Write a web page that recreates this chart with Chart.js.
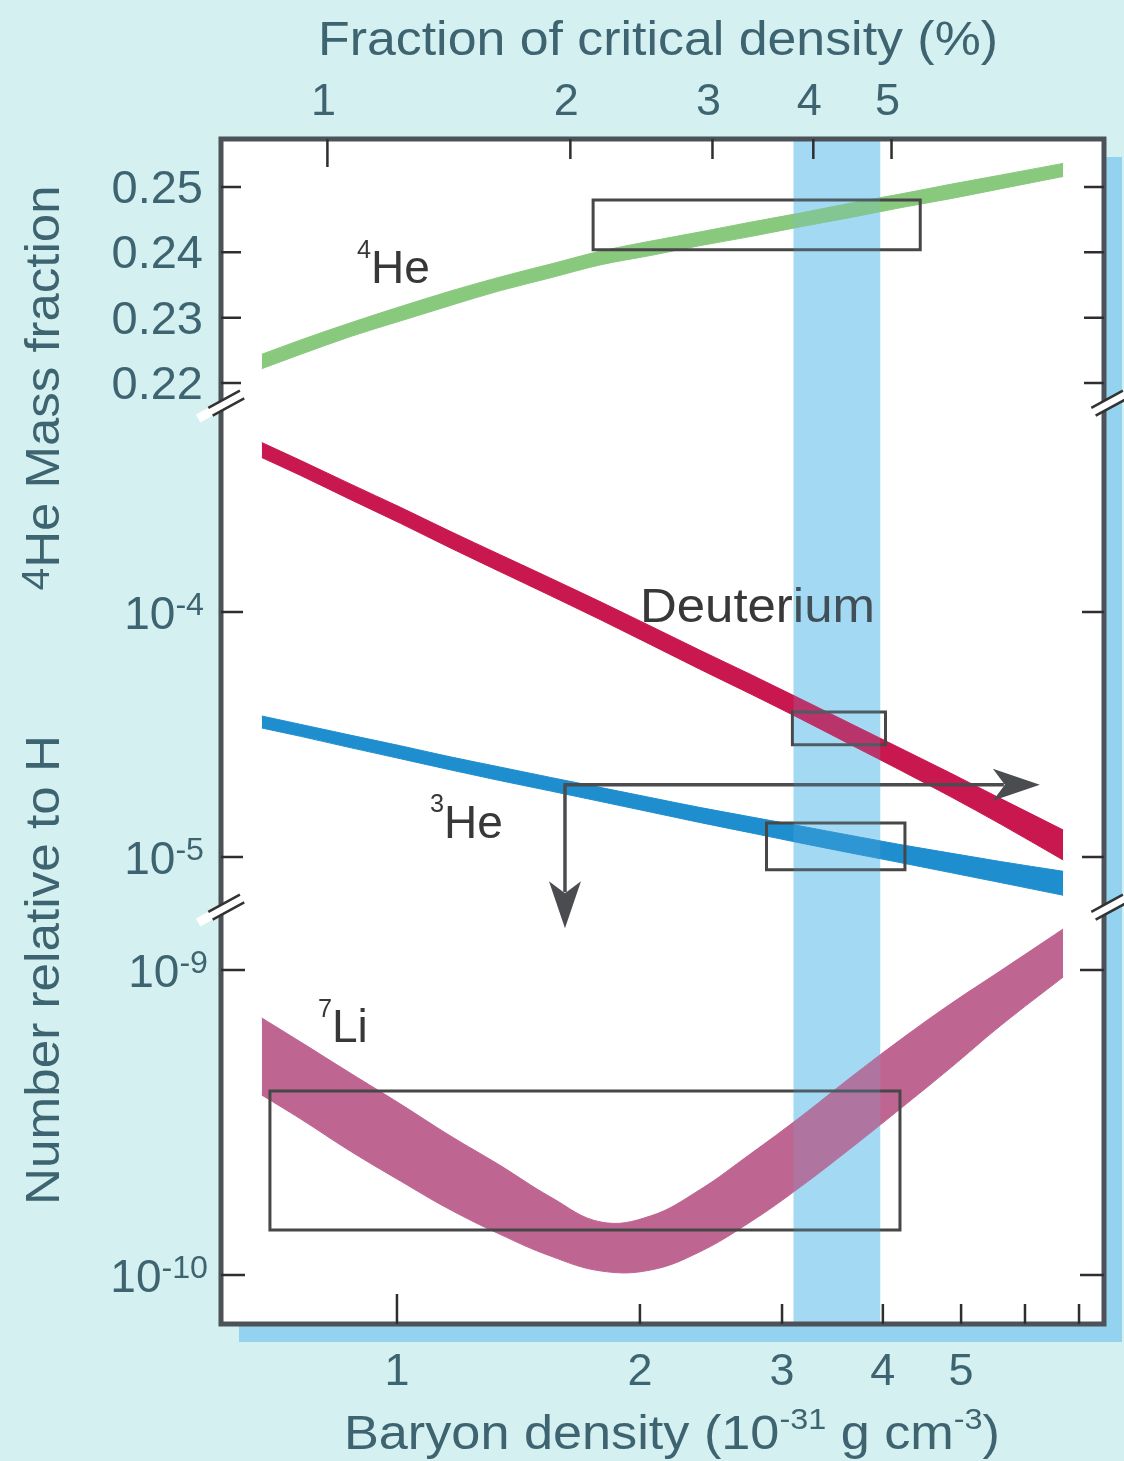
<!DOCTYPE html>
<html><head><meta charset="utf-8">
<script src="https://cdn.jsdelivr.net/npm/chart.js@4.4.1/dist/chart.umd.min.js"></script>
<style>html,body{margin:0;padding:0;background:#d4f0f0;}canvas{display:block;}</style>
</head><body>
<canvas id="c" width="1124" height="1461"></canvas>
<script>
// ---- data ----
const density = [0.68, 0.76, 0.875, 1.01, 1.16, 1.34, 1.55, 1.79, 2.06, 2.37, 2.74, 3.16, 3.64, 4.2, 4.85, 5.59, 6.69];
const he4Upper = [0.2244,0.2266,0.2292,0.2317,0.2340,0.2362,0.2382,0.2402,0.2417,0.2431,0.2446,0.2460,0.2475,0.2489,0.2504,0.2518,0.2536];
const he4Lower = [0.2222,0.2244,0.2271,0.2295,0.2318,0.2341,0.2361,0.2381,0.2395,0.2410,0.2424,0.2439,0.2453,0.2468,0.2482,0.2497,0.2516];
const deutUpper = [4.918e-4,4.153e-4,3.334e-4,2.675e-4,2.146e-4,1.718e-4,1.374e-4,1.098e-4,8.772e-5,6.997e-5,5.569e-5,4.426e-5,3.516e-5,2.785e-5,2.201e-5,1.735e-5,1.289e-5];
const deutLower = [4.271e-4,3.606e-4,2.882e-4,2.301e-4,1.838e-4,1.464e-4,1.166e-4,9.275e-5,7.373e-5,5.853e-5,4.637e-5,3.668e-5,2.886e-5,2.265e-5,1.764e-5,1.365e-5,9.72e-6];
const he3Upper = [3.762e-5,3.477e-5,3.144e-5,2.844e-5,2.570e-5,2.331e-5,2.112e-5,1.920e-5,1.749e-5,1.594e-5,1.459e-5,1.338e-5,1.226e-5,1.124e-5,1.037e-5,9.585e-6,8.741e-6];
const he3Lower = [3.362e-5,3.107e-5,2.795e-5,2.518e-5,2.274e-5,2.052e-5,1.859e-5,1.683e-5,1.526e-5,1.384e-5,1.256e-5,1.141e-5,1.040e-5,9.49e-6,8.636e-6,7.867e-6,6.979e-6];
const li7Upper = [6.963e-10,5.804e-10,4.595e-10,3.636e-10,2.877e-10,2.294e-10,1.802e-10,1.492e-10,1.561e-10,1.900e-10,2.493e-10,3.296e-10,4.424e-10,5.893e-10,7.735e-10,9.925e-10,1.363e-9];
const li7Lower = [3.891e-10,3.246e-10,2.550e-10,2.033e-10,1.646e-10,1.362e-10,1.154e-10,1.031e-10,1.038e-10,1.190e-10,1.492e-10,1.943e-10,2.589e-10,3.501e-10,4.773e-10,6.553e-10,9.485e-10];

const he4BoxX = [1.75, 4.45], he4BoxY = [0.2404, 0.2480];
const deutBoxX = [3.09, 4.03], deutBoxY = [2.87e-5, 3.91e-5];
const he3BoxX = [2.87, 4.26], he3BoxY = [8.86e-6, 1.377e-5];
const li7BoxX = [0.696, 4.20], li7BoxY = [1.406e-10, 4.01e-10];
const preferredBand = [3.10, 3.97];
const arrowCorner = [1.615, 1.97e-5];
const arrowRightX = 6.26;
const arrowDownY = 1.37e-9;

const bottomTicks = [1, 2, 3, 4, 5, 6, 7];
const bottomLabels = ['1', '2', '3', '4', '5', '', ''];
const topTicks = [1, 2, 3, 4, 5];
const topLabels = ['1', '2', '3', '4', '5'];
const he4Ticks = [0.25, 0.24, 0.23, 0.22];
const he4TickLabels = ['0.25', '0.24', '0.23', '0.22'];
const midTicks = [1e-4, 1e-5];
const midTickExp = ['-4', '-5'];
const liTicks = [1e-9, 1e-10];
const liTickExp = ['-9', '-10'];
const criticalUnit = 0.82; // baryon density (1e-31 g cm^-3) equal to 1 % of critical density

// ---- styles ----
const FONT = '"Liberation Sans", Arial, sans-serif';
const AXIS_TXT = '#3d6470';
const LBL_TXT = '#383838';
const C_HE4 = '#88c97e', C_D = '#c9174f', C_HE3 = '#1f8ecf', C_LI = '#bf6592';

function band(upper, lower, color, axis, mode) {
  const extra = mode === 'monotone' ? {cubicInterpolationMode: 'monotone'} : {tension: 0.4};
  return [
    Object.assign({data: density.map((x, i) => ({x, y: upper[i]})), yAxisID: axis, xAxisID: 'x', borderColor: color, borderWidth: 1, fill: false}, extra),
    Object.assign({data: density.map((x, i) => ({x, y: lower[i]})), yAxisID: axis, xAxisID: 'x', borderColor: color, borderWidth: 1, backgroundColor: color, fill: '-1'}, extra)
  ];
}
function rect(bx, by, axis) {
  return {data: [{x: bx[0], y: by[0]}, {x: bx[1], y: by[0]}, {x: bx[1], y: by[1]}, {x: bx[0], y: by[1]}, {x: bx[0], y: by[0]}],
    yAxisID: axis, xAxisID: 'x', borderColor: '#474747', borderWidth: 3, tension: 0, fill: false,
    borderJoinStyle: 'miter', borderCapStyle: 'square'};
}

const datasets = [
  rect(he4BoxX, he4BoxY, 'yHe'),
  rect(deutBoxX, deutBoxY, 'yMid'),
  rect(he3BoxX, he3BoxY, 'yMid'),
  rect(li7BoxX, li7BoxY, 'yLi'),
  ...band(he4Upper, he4Lower, C_HE4, 'yHe', 'monotone'),
  ...band(deutUpper, deutLower, C_D, 'yMid', 'monotone'),
  ...band(he3Upper, he3Lower, C_HE3, 'yMid', 'monotone'),
  ...band(li7Upper, li7Lower, C_LI, 'yLi', 'spline')
];

function rich(ctx, parts, x, y, size, align, color, targetW, rot) {
  ctx.save();
  ctx.translate(x, y);
  if (rot) ctx.rotate(rot);
  let w = 0; const ws = [];
  for (const p of parts) { ctx.font = `${size * (p[1] || 1)}px ${FONT}`; const m = ctx.measureText(p[0]).width; ws.push(m); w += m; }
  if (targetW) ctx.scale(targetW / w, 1);
  let cx = align === 'center' ? -w / 2 : align === 'right' ? -w : 0;
  ctx.fillStyle = color; ctx.textBaseline = 'alphabetic'; ctx.textAlign = 'left';
  parts.forEach((p, i) => { ctx.font = `${size * (p[1] || 1)}px ${FONT}`; ctx.fillText(p[0], cx, -(p[2] || 0) * size); cx += ws[i]; });
  ctx.restore();
}
function arrowHead(ctx, tx, ty, ang) {
  ctx.save(); ctx.translate(tx, ty); ctx.rotate(ang);
  ctx.beginPath(); ctx.moveTo(0, 0); ctx.lineTo(-47, -16); ctx.lineTo(-35, 0); ctx.lineTo(-47, 16); ctx.closePath();
  ctx.fillStyle = '#4a4c50'; ctx.fill();
  ctx.restore();
}

const decor = {
  id: 'decor',
  beforeDraw(chart) {
    const {ctx, chartArea: a} = chart;
    ctx.save();
    ctx.fillStyle = '#d4f0f0'; ctx.fillRect(0, 0, chart.width, chart.height);
    ctx.fillStyle = '#93d3ef'; ctx.fillRect(a.left + 18, a.top + 18, a.right - a.left, a.bottom - a.top);
    ctx.fillStyle = '#ffffff'; ctx.fillRect(a.left, a.top, a.right - a.left, a.bottom - a.top);
    const xs = chart.scales.x;
    const b0 = xs.getPixelForValue(preferredBand[0]), b1 = xs.getPixelForValue(preferredBand[1]);
    ctx.fillStyle = '#b0e0f7'; ctx.fillRect(b0, a.top, b1 - b0, a.bottom - a.top);
    ctx.restore();
  },
  afterDatasetsDraw(chart) {
    const {ctx, chartArea: a} = chart;
    const xs = chart.scales.x, xf = chart.scales.xFrac, yHe = chart.scales.yHe, yM = chart.scales.yMid, yL = chart.scales.yLi;
    ctx.save();
    // arrows
    const px = xs.getPixelForValue(arrowCorner[0]), py = yM.getPixelForValue(arrowCorner[1]);
    const pr = xs.getPixelForValue(arrowRightX), pd = yL.getPixelForValue(arrowDownY);
    ctx.strokeStyle = '#4a4c50'; ctx.lineWidth = 3.5; ctx.lineCap = 'butt';
    ctx.beginPath(); ctx.moveTo(px - 1.5, py); ctx.lineTo(pr - 36, py); ctx.moveTo(px, py); ctx.lineTo(px, pd - 36); ctx.stroke();
    arrowHead(ctx, pr, py, 0);
    arrowHead(ctx, px, pd, Math.PI / 2);
    // element labels
    rich(ctx, [['4', 0.55, 0.55], ['He']], xs.getPixelForValue(0.892), yHe.getPixelForValue(0.2353), 46, 'left', LBL_TXT);
    rich(ctx, [['Deuterium']], xs.getPixelForValue(2.0), yM.getPixelForValue(9.1e-5), 48, 'left', LBL_TXT, 235);
    rich(ctx, [['3', 0.55, 0.55], ['He']], xs.getPixelForValue(1.099), yM.getPixelForValue(1.2e-5), 46, 'left', LBL_TXT);
    rich(ctx, [['7', 0.55, 0.55], ['Li']], xs.getPixelForValue(0.798), yL.getPixelForValue(5.8e-10), 46, 'left', LBL_TXT);
    // light tint of the preferred band over everything inside
    const b0 = xs.getPixelForValue(preferredBand[0]), b1 = xs.getPixelForValue(preferredBand[1]);
    ctx.fillStyle = 'rgba(110,190,235,0.18)'; ctx.fillRect(b0, a.top, b1 - b0, a.bottom - a.top);
    // frame
    ctx.strokeStyle = '#4c5257'; ctx.lineWidth = 5;
    ctx.strokeRect(a.left, a.top, a.right - a.left, a.bottom - a.top);
    // ticks
    ctx.strokeStyle = '#2e2e2e'; ctx.lineWidth = 2.5;
    ctx.beginPath();
    const yTick = (scale, v, len) => { const y = scale.getPixelForValue(v); ctx.moveTo(a.left, y); ctx.lineTo(a.left + len, y); ctx.moveTo(a.right, y); ctx.lineTo(a.right - len, y); };
    he4Ticks.forEach(v => yTick(yHe, v, 20));
    midTicks.forEach(v => yTick(yM, v, 22));
    liTicks.forEach(v => yTick(yL, v, 24));
    bottomTicks.forEach(v => { const x = xs.getPixelForValue(v); ctx.moveTo(x, a.bottom); ctx.lineTo(x, a.bottom - (v === 1 ? 30 : 20)); });
    topTicks.forEach(v => { const x = xf.getPixelForValue(v); ctx.moveTo(x, a.top); ctx.lineTo(x, a.top + (v === 1 ? 28 : 20)); });
    ctx.stroke();
    // axis breaks
    const breakMark = (cx, cy) => {
      ctx.save(); ctx.translate(cx, cy); ctx.rotate(-0.5);
      ctx.fillStyle = '#ffffff'; ctx.fillRect(-26, -4.5, 52, 9);
      ctx.strokeStyle = '#333'; ctx.lineWidth = 2.5;
      ctx.beginPath(); ctx.moveTo(-12, -4.5); ctx.lineTo(24, -4.5); ctx.moveTo(-12, 4.5); ctx.lineTo(24, 4.5); ctx.stroke();
      ctx.restore();
    };
    [yM.top, yM.bottom].forEach(y => { breakMark(a.left, y); breakMark(a.right, y); });
    // tick labels
    he4Ticks.forEach((v, i) => rich(ctx, [[he4TickLabels[i]]], 203, yHe.getPixelForValue(v) + 16, 47, 'right', AXIS_TXT));
    midTicks.forEach((v, i) => rich(ctx, [['10'], [midTickExp[i], 0.7, 0.3]], 204, yM.getPixelForValue(v) + 17, 46, 'right', AXIS_TXT));
    liTicks.forEach((v, i) => rich(ctx, [['10'], [liTickExp[i], 0.7, 0.3]], 208, yL.getPixelForValue(v) + 17, 46, 'right', AXIS_TXT));
    bottomTicks.forEach((v, i) => { if (bottomLabels[i]) rich(ctx, [[bottomLabels[i]]], xs.getPixelForValue(v), 1385, 45, 'center', AXIS_TXT); });
    topTicks.forEach((v, i) => rich(ctx, [[topLabels[i]]], xf.getPixelForValue(v) - 4, 115, 45, 'center', AXIS_TXT));
    // axis titles
    rich(ctx, [['Fraction of critical density (%)']], 658, 55, 48, 'center', AXIS_TXT, 680);
    rich(ctx, [['Baryon density (10'], ['-31', 0.62, 0.42], [' g cm'], ['-3', 0.62, 0.42], [')']], 672, 1449, 48, 'center', AXIS_TXT, 656);
    rich(ctx, [['4', 0.8, 0.2], ['He Mass fraction']], 59, 388, 48, 'center', AXIS_TXT, 405, -Math.PI / 2);
    rich(ctx, [['Number relative to H']], 59, 970, 48, 'center', AXIS_TXT, 470, -Math.PI / 2);
    ctx.restore();
  }
};

new Chart(document.getElementById('c'), {
  type: 'line',
  data: {datasets},
  options: {
    responsive: false, animation: false, devicePixelRatio: 1,
    layout: {padding: {left: 221, right: 20, top: 139, bottom: 137}},
    plugins: {legend: {display: false}, tooltip: {enabled: false}, filler: {propagate: false}},
    elements: {point: {radius: 0}},
    scales: {
      x: {type: 'logarithmic', position: 'bottom', bounds: 'data', min: 0.6053, max: 7.517, display: false},
      xFrac: {type: 'logarithmic', position: 'top', bounds: 'data', min: 0.6053 / criticalUnit, max: 7.517 / criticalUnit, display: false},
      yLi: {type: 'logarithmic', position: 'left', bounds: 'data', stack: 'panels', stackWeight: 414, weight: 1, min: 6.91e-11, max: 1.573e-9, display: false},
      yMid: {type: 'logarithmic', position: 'left', bounds: 'data', stack: 'panels', stackWeight: 504, weight: 2, min: 6.075e-6, max: 6.933e-4, display: false},
      yHe: {type: 'linear', position: 'left', bounds: 'data', stack: 'panels', stackWeight: 267, weight: 3, min: 0.21649, max: 0.25733, display: false}
    }
  },
  plugins: [decor]
});
</script>
</body></html>
